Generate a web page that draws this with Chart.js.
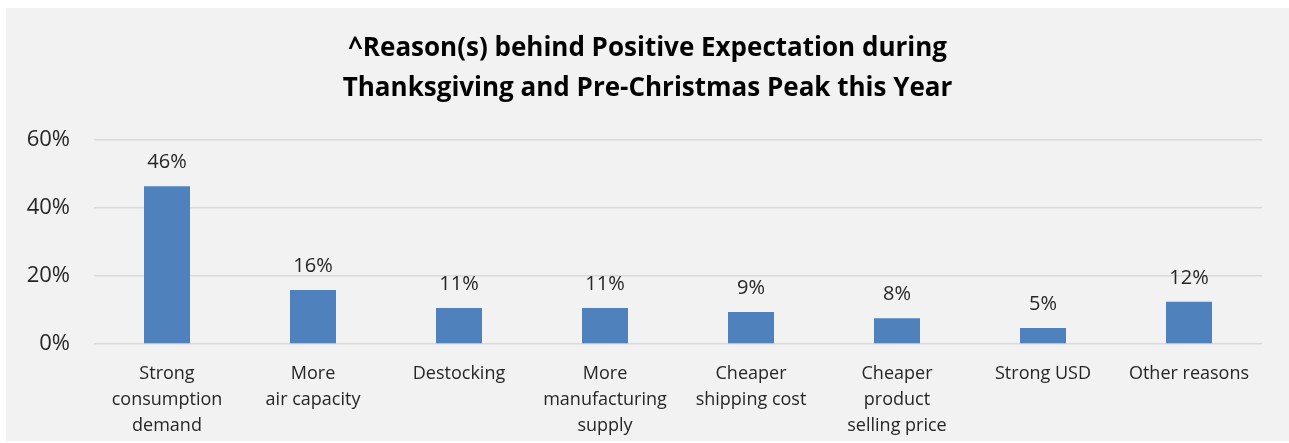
<!DOCTYPE html>
<html lang="en">
<head>
    <meta charset="UTF-8">
    <title>Reason(s) behind Positive Expectation</title>
    <script src="https://cdn.jsdelivr.net/npm/chart.js"></script>
    <style>
        html, body { margin: 0; padding: 0; background: #fff; }
        #wrap {
            position: absolute;
            left: 6px; top: 8px;
            width: 1283px; height: 433px;
            background: #f2f2f2;
        }
    </style>
</head>
<body>

<div id="wrap"><canvas id="myChart"></canvas></div>

<script>
// categories (multi-line labels as shown under the bars)
const categories = [
    ['Strong', 'consumption', 'demand'],
    ['More', 'air capacity'],
    ['Destocking'],
    ['More', 'manufacturing', 'supply'],
    ['Cheaper', 'shipping cost'],
    ['Cheaper', 'product', 'selling price'],
    ['Strong USD'],
    ['Other reasons']
];

// share of respondents, %
const shares = [46.4, 15.9, 10.6, 10.6, 9.4, 7.6, 4.7, 12.4];

// y axis ticks
const yTicks = [0, 20, 40, 60];

const titleLines = [
    '^Reason(s) behind Positive Expectation during',
    'Thanksgiving and Pre-Christmas Peak this Year'
];

// draws the rounded value above each bar
const barLabels = {
    id: 'barLabels',
    afterDatasetsDraw(chart) {
        const ctx = chart.ctx;
        const meta = chart.getDatasetMeta(0);
        ctx.save();
        ctx.font = '20px "Open Sans"';
        ctx.fillStyle = '#262626';
        ctx.textAlign = 'center';
        ctx.textBaseline = 'middle';
        meta.data.forEach((bar, i) => {
            ctx.fillText(Math.round(shares[i]) + '%', bar.x, bar.y - 24);
        });
        ctx.restore();
    }
};

const ctx = document.getElementById('myChart').getContext('2d');
const myChart = new Chart(ctx, {
    type: 'bar',
    data: {
        labels: categories,
        datasets: [{
            data: shares,
            backgroundColor: '#4f81bd',
            borderWidth: 0,
            categoryPercentage: 1,
            barPercentage: 0.315
        }]
    },
    options: {
        responsive: true,
        maintainAspectRatio: false,
        animation: false,
        layout: { padding: 0 },
        plugins: {
            legend: { display: false },
            tooltip: { enabled: false },
            title: {
                display: true,
                text: titleLines,
                color: '#000',
                font: { family: 'Open Sans', size: 26, weight: 'bold', lineHeight: 1.538 },
                padding: { top: 21, bottom: 31 }
            }
        },
        scales: {
            x: {
                afterFit(scale) { scale.height = 97; },
                grid: { display: false, drawTicks: false },
                border: { display: false },
                ticks: {
                    color: '#262626',
                    font: { family: 'Open Sans', size: 18, lineHeight: 1.444 },
                    padding: 17,
                    maxRotation: 0,
                    autoSkip: false
                }
            },
            y: {
                min: 0,
                max: 60,
                afterBuildTicks(scale) {
                    scale.ticks = yTicks.map(v => ({ value: v }));
                },
                afterFit(scale) { scale.width = 88; },
                grid: { color: '#d9d9d9', lineWidth: 1.5, drawTicks: false },
                border: { display: false },
                ticks: {
                    color: '#262626',
                    font: { family: 'Open Sans', size: 22 },
                    padding: 24,
                    callback: v => v + '%'
                }
            },
            // empty right axis, keeps the right margin so the title stays centred
            yRight: {
                position: 'right',
                min: 0,
                max: 60,
                afterFit(scale) { scale.width = 27; },
                grid: { display: false, drawTicks: false },
                border: { display: false },
                ticks: { display: false }
            }
        }
    },
    plugins: [barLabels]
});
</script>

</body>
</html>
